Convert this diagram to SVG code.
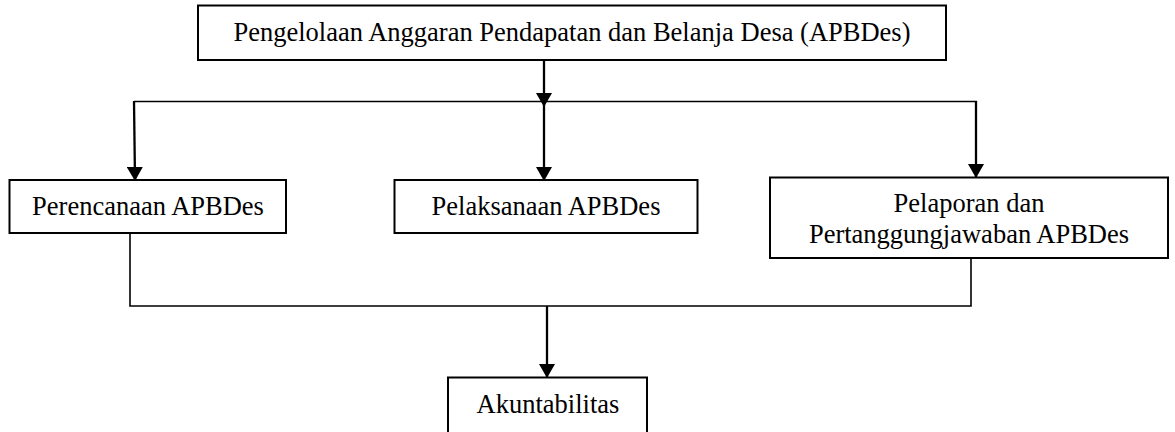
<svg xmlns="http://www.w3.org/2000/svg" width="1175" height="432" viewBox="0 0 1175 432">
<style>
.box{fill:#fff;stroke:#000;stroke-width:2}
.t{font-family:"Liberation Serif","Times New Roman",serif;font-size:26.5px;fill:#000;text-anchor:middle}
.c{fill:none;stroke:#000;stroke-width:2.3}
.thin{fill:none;stroke:#000;stroke-width:1.6}
</style>
<defs>
<marker id="ad" markerUnits="userSpaceOnUse" markerWidth="14" markerHeight="16" refX="14" refY="8" orient="auto" viewBox="0 0 14 16">
<path d="M0,0 L14,8 L0,16 z" fill="#000"/>
</marker>
</defs>
<g id="connectors">
<line class="thin" x1="134" y1="101.5" x2="977" y2="101.5"/>
<line class="c" x1="544" y1="60" x2="544" y2="107" marker-end="url(#ad)"/>
<line class="c" x1="544" y1="107" x2="544" y2="181" marker-end="url(#ad)"/>
<line class="c" x1="134" y1="101" x2="135" y2="181" marker-end="url(#ad)"/>
<line class="c" x1="976" y1="101" x2="976" y2="178" marker-end="url(#ad)"/>
<polyline class="thin" points="130,233 130,306 971,306 971,258"/>
<line class="c" x1="547" y1="306" x2="547" y2="378" marker-end="url(#ad)"/>
</g>
<g id="node-apbdes">
<rect class="box" x="198" y="5.5" width="748" height="54.5"/>
<text class="t" x="572" y="41">Pengelolaan Anggaran Pendapatan dan Belanja Desa (APBDes)</text>
</g>
<g id="node-perencanaan">
<rect class="box" x="9.5" y="180" width="276.5" height="53"/>
<text class="t" x="148" y="215">Perencanaan APBDes</text>
</g>
<g id="node-pelaksanaan">
<rect class="box" x="394.5" y="180" width="303" height="53"/>
<text class="t" x="546" y="215">Pelaksanaan APBDes</text>
</g>
<g id="node-pelaporan">
<rect class="box" x="770" y="177.5" width="398" height="80.5"/>
<text class="t" x="969" y="212">Pelaporan dan</text>
<text class="t" x="969" y="243">Pertanggungjawaban APBDes</text>
</g>
<g id="node-akuntabilitas">
<rect class="box" x="448" y="377.5" width="199" height="70"/>
<text class="t" x="548" y="413">Akuntabilitas</text>
</g>
</svg>
